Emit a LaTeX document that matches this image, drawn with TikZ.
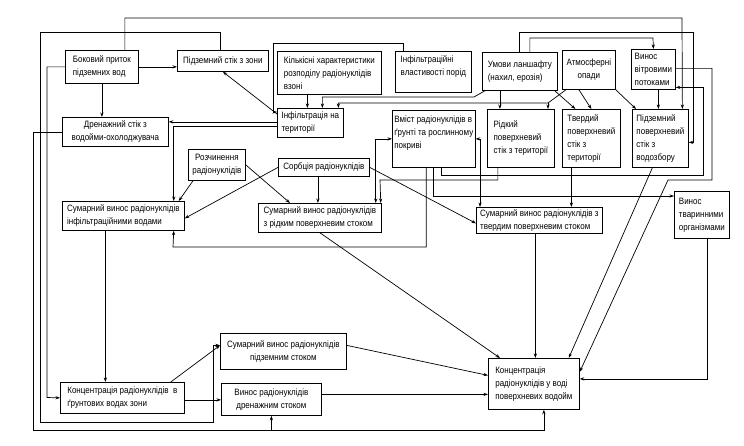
\documentclass[tikz,border=0pt]{standalone}
\usepackage{fontspec}
\setmainfont{Liberation Sans}[FakeStretch=0.87]
\usetikzlibrary{arrows.meta}

\tikzset{
  box/.style={draw, line width=0.75pt, anchor=north west, inner sep=2pt,
    font=\fontsize{9.2}{13}\selectfont},
  arr/.style={line width=0.7pt, -{Stealth[length=4.5pt,width=3.2pt]}},
  both/.style={line width=0.7pt,
    {Stealth[length=4.5pt,width=3.2pt]}-{Stealth[length=4.5pt,width=3.2pt]}},
}

\begin{document}
\begin{tikzpicture}[x=1pt,y=-1pt]
  \useasboundingbox (0,0) rectangle (744,446);
  \foreach \n/\x/\y/\w/\h/\a/\t in
    { b1/65/50/73/33/left/{Боковий приток\\підземних вод},
      b2/177/50/91/21/left/{Підземний стік з зони},
      b3/277/51/104/43/left/{Кількісні характеристики\\розподілу радіонуклідів\\взоні},
      b4/395/51/76/41/left/{Інфільтраційні\\властивості порід\\\mbox{}},
      b5/482/52/75/38/left/{Умови ланшафту\\(нахил, ерозія)},
      b6/562/50/53/39/center/{Атмосферні\\опади},
      b7/631/49/44/40/left/{Винос\\вітровими\\потоками},
      b8/277/108/66/29/left/{Інфільтрація на\\території},
      b9/392/110/81/57/left/{Вміст радіонуклідів в\\ґрунті та рослинному\\покриві\\\mbox{}},
      b10/487/109/67/58/left/{Рідкий\\поверхневий\\стік з території},
      b11/562/109/58/58/left/{Твердий\\поверхневий\\стік з\\території},
      b12/632/109/56/58/left/{Підземний\\поверхневий\\стік з\\водозбору},
      b13/62/117/106/29/center/{Дренажний стік з\\водойми-охолоджувача},
      b14/188/149/57/31/center/{Розчинення\\радіонуклідів},
      b15/278/158/91/18/left/{Сорбція радіонуклідів},
      b16/62/201/122/29/left/{Сумарний винос радіонуклідів\\інфільтраційними водами},
      b17/258/203/123/29/left/{Сумарний винос радіонуклідів\\з рідким поверхневим стоком},
      b18/476/207/126/26/left/{Сумарний винос радіонуклідів з\\твердим поверхневим стоком},
      b19/674/191/55/47/left/{Винос\\тваринними\\організмами},
      b20/220/333/126/36/center/{Сумарний винос радіонуклідів\\підземним стоком},
      b21/60/382/124/31/left/{Концентрація радіонуклідів\ \ в\\ґрунтових водах зони},
      b22/221/383/100/32/center/{Винос радіонуклідів\\дренажним стоком},
      b23/488/358/91/51/left/{Концентрація\\радіонуклідів у воді\\поверхневих водойм}}
    \node[box, minimum width=\w pt, minimum height=\h pt, align=\a] (\n) at (\x,\y) {\t};

  \coordinate (rain) at (548,103);

  \draw[arr] (b1.east) -- (b1.east -| b2.west);
  \draw[arr] (b1.south) -- (b1.south |- b13.north);
  \draw[arr] ([xshift=23pt]b1.north) |- (682,18) -- ([xshift=22pt]b12.north);
  \draw[arr] (b1.west) -| (47,397.5) -- (b21.west);
  \draw[arr] ([xshift=-3pt]b2.north) |- (40,32) -- (40,422)
    -| ([xshift=-7pt,yshift=6pt]b20.west) -- ([yshift=6pt]b20.west);
  \draw[arr] (b13.west) -| (33,430) -| ([xshift=10pt]b23.south);
  \draw[arr] (b22.south |- 0,430) -- (b22.south);
  \draw[arr] ([yshift=-6pt]b8.north west) -- (b2.south);
  \draw[arr] ([yshift=1pt]b8.west) -- ([yshift=1pt]b8.west -| b13.east);
  \draw[arr] ([yshift=-3pt]b8.west) -| ([xshift=-11pt]b16.north east);
  \draw[arr] ([xshift=-3pt]b8.north |- b3.south) -- ([xshift=-3pt]b8.north);
  \draw[arr] ([xshift=-30pt]b4.north) |- (273,43) |- ([yshift=-4pt]b8.north west);
  \draw[arr] ([xshift=3pt]b5.south west) -- (474,97) -| ([xshift=12pt]b8.north);
  \draw[arr] ([xshift=4pt]b6.south west) -- (rain) -| ([xshift=28pt]b8.north);
  \draw[arr] (rain) -- (rain |- b10.north);
  \draw[arr] ([xshift=-20pt]b5.south) -- ([xshift=-20pt]b5.south |- b10.north);
  \draw[arr] ([xshift=-3pt]b5.south east) -- ([xshift=-16pt]b11.north);
  \draw[arr] ([xshift=-10pt]b6.south) -- (b11.north);
  \draw[arr] (b6.south east) -- ([xshift=4pt]b12.north west);
  \draw[arr] ([xshift=5pt]b7.south) -- ([xshift=5pt]b7.south |- b12.north);
  \draw[arr] ([xshift=10pt]b5.north) |- (653,38) -- (b7.north);
  \draw[arr] ([xshift=-1pt]b5.north) |- (693,32) |- ([yshift=-4pt]b12.east);
  \draw[arr] ([yshift=1pt]b7.east) -| (712,180) -- (668,180) -- ([yshift=12pt]b23.east);
  \draw[arr] ([xshift=7.5pt]b9.south) |- (703,175) |- ([yshift=-18pt]b7.east);
  \draw[arr] (b9.south) |- ([yshift=-5pt]b19.north west);
  \draw[arr] ([xshift=-7.5pt]b9.south) |- (173,247) -- ([xshift=-11pt]b16.south east);
  \draw[both] (b9.west) -| ([xshift=-6pt]b17.north east);
  \draw[arr] ([xshift=-23pt]b10.south) |- (380,180) -- ([xshift=-1pt]b17.north east);
  \draw[both] (b9.east) -| ([xshift=4pt]b18.north west);
  \draw[arr] ([xshift=-20pt]b11.south) -- ([xshift=-20pt]b11.south |- b18.north);
  \draw[arr] ([xshift=-8pt]b12.south) -- ([xshift=-11pt]b23.north east);
  \draw[arr] ([xshift=5pt]b14.south west) -- ([xshift=-6pt]b16.north east);
  \draw[arr] (b14.east) -- ([xshift=32pt]b17.north west);
  \draw[arr] (b15.west) -- ([yshift=-2.5pt]b16.east);
  \draw[arr] ([xshift=-6pt]b15.south) -- ([xshift=-6pt]b15.south |- b17.north);
  \draw[arr] (b15.east) -- ([yshift=-3pt]b18.west);
  \draw[arr] ([xshift=-18pt]b16.south) -- ([xshift=-18pt]b16.south |- b21.north);
  \draw[arr] (b17.south) -- ([xshift=12pt]b23.north west);
  \draw[arr] ([xshift=-4pt]b18.south) -- ([xshift=-4pt]b18.south |- b23.north);
  \draw[arr] ([xshift=5.5pt]b19.south) |- ([yshift=5pt]b23.east);
  \draw[arr] ([yshift=6pt]b20.east) -- ([yshift=8.5pt]b23.west);
  \draw[arr] ([xshift=-14pt]b21.north east) -- ([yshift=6pt]b20.west);
  \draw[arr] ([yshift=-2pt]b21.east) -- ([yshift=-2pt]b21.east -| b22.west);
  \draw[arr] ([yshift=5pt]b22.east) -- ([yshift=5pt]b22.east -| b23.west);
\end{tikzpicture}
\end{document}
